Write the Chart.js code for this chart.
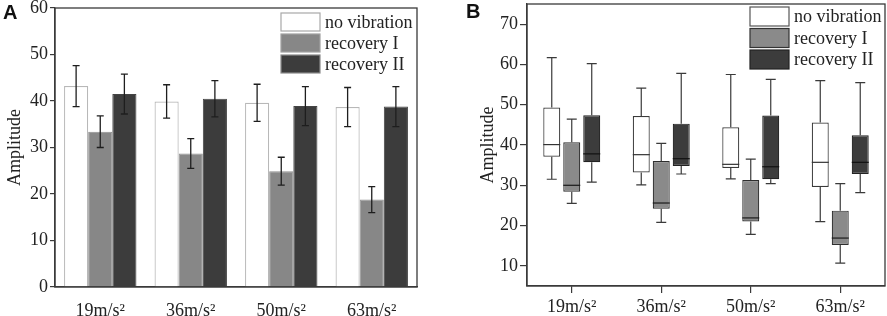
<!DOCTYPE html>
<html>
<head>
<meta charset="utf-8">
<script src="https://cdn.jsdelivr.net/npm/chart.js@4.4.0/dist/chart.umd.min.js"></script>
<style>
  body { margin: 0; background: #fff; width: 887px; height: 316px; position: relative; overflow: hidden; }
  .panel { position: absolute; top: 0; }
  .tag { position: absolute; font: bold 20px "Liberation Sans", Arial, sans-serif; color: #111; }
</style>
</head>
<body>
<div class="panel" style="left:0"><canvas id="chartA" width="445" height="316"></canvas></div>
<div class="panel" style="left:445px"><canvas id="chartB" width="442" height="316"></canvas></div>
<div class="tag" style="left:3px;top:1px">A</div>
<div class="tag" style="left:466px;top:0px">B</div>
<script>
const categories = ["19m/s\u00b2", "36m/s\u00b2", "50m/s\u00b2", "63m/s\u00b2"];
const seriesNames = ["no vibration", "recovery I", "recovery II"];

// panel A: mean +- error
const meanNoVib = [43.2, 39.9, 39.6, 38.7];
const meanRecI = [33.4, 28.7, 24.9, 18.8];
const meanRecII = [41.5, 40.5, 38.9, 38.8];
const errNoVib = [4.4, 3.6, 4.0, 4.2];
const errRecI = [3.4, 3.2, 3.0, 2.8];
const errRecII = [4.3, 3.9, 4.2, 4.3];
const yTicksA = [0, 10, 20, 30, 40, 50, 60];

// panel B: box plots
const minNoVib = [31.5, 30.1, 31.6, 21.0];
const q1NoVib = [37.1, 33.2, 34.3, 29.6];
const medNoVib = [40.1, 37.6, 35.2, 35.7];
const q3NoVib = [49.3, 47.2, 44.4, 45.6];
const maxNoVib = [61.7, 54.1, 57.5, 56.0];

const minRecI = [25.5, 20.8, 17.8, 10.7];
const q1RecI = [28.4, 24.2, 21.0, 15.2];
const medRecI = [30.0, 25.6, 21.9, 16.9];
const q3RecI = [40.7, 36.0, 31.3, 23.7];
const maxRecI = [46.4, 40.4, 36.5, 30.4];

const minRecII = [30.8, 32.8, 30.4, 28.2];
const q1RecII = [35.7, 34.8, 31.5, 32.8];
const medRecII = [37.8, 36.6, 34.6, 35.7];
const q3RecII = [47.4, 45.3, 47.3, 42.4];
const maxRecII = [60.2, 57.8, 56.3, 55.5];
const yTicksB = [10, 20, 30, 40, 50, 60, 70];

const serif = "'Liberation Serif', 'Times New Roman', serif";
const ink = "#222";

// frame round the plot area
const framePlugin = {
  id: "frame",
  afterDraw(chart) {
    const { ctx, chartArea: a } = chart;
    ctx.save();
    ctx.strokeStyle = "#3a3a3a";
    ctx.lineWidth = 1.3;
    ctx.strokeRect(a.left, a.top, a.right - a.left, a.bottom - a.top);
    ctx.restore();
  }
};

// legend drawn inside the plot, with swatches
const swatchLegend = {
  id: "swatchLegend",
  afterDraw(chart, args, opts) {
    const ctx = chart.ctx;
    ctx.save();
    ctx.font = "18px " + serif;
    ctx.textBaseline = "middle";
    chart.data.datasets.forEach((ds, i) => {
      const y = opts.y + i * opts.step;
      ctx.fillStyle = ds.backgroundColor;
      ctx.fillRect(opts.x, y, opts.w, opts.h);
      ctx.strokeStyle = opts.borders[i];
      ctx.lineWidth = 1.2;
      ctx.strokeRect(opts.x, y, opts.w, opts.h);
      ctx.fillStyle = ink;
      ctx.fillText(ds.label, opts.x + opts.w + 5, y + opts.h / 2 + 1);
    });
    ctx.restore();
  }
};

// error bars for panel A
const errorBars = {
  id: "errorBars",
  afterDatasetsDraw(chart) {
    const ctx = chart.ctx;
    const ys = chart.scales.y;
    ctx.save();
    ctx.strokeStyle = "#1e1e1e";
    ctx.lineWidth = 1.3;
    chart.data.datasets.forEach((ds, i) => {
      chart.getDatasetMeta(i).data.forEach((bar, j) => {
        const hi = ys.getPixelForValue(ds.data[j] + ds.errors[j]);
        const lo = ys.getPixelForValue(ds.data[j] - ds.errors[j]);
        ctx.beginPath();
        ctx.moveTo(bar.x, hi); ctx.lineTo(bar.x, lo);
        ctx.moveTo(bar.x - 3.5, hi); ctx.lineTo(bar.x + 3.5, hi);
        ctx.moveTo(bar.x - 3.5, lo); ctx.lineTo(bar.x + 3.5, lo);
        ctx.stroke();
      });
    });
    ctx.restore();
  }
};

// whiskers and medians for panel B
const boxParts = {
  id: "boxParts",
  afterDatasetsDraw(chart) {
    const ctx = chart.ctx;
    const ys = chart.scales.y;
    ctx.save();
    ctx.lineWidth = 1.2;
    chart.data.datasets.forEach((ds, i) => {
      chart.getDatasetMeta(i).data.forEach((bar, j) => {
        const [q1, q3] = ds.data[j];
        const pMax = ys.getPixelForValue(ds.maxs[j]);
        const pMin = ys.getPixelForValue(ds.mins[j]);
        const pQ1 = ys.getPixelForValue(q1);
        const pQ3 = ys.getPixelForValue(q3);
        const pMed = ys.getPixelForValue(ds.meds[j]);
        const half = bar.width / 2;
        ctx.strokeStyle = "#3a3a3a";
        ctx.beginPath();
        ctx.moveTo(bar.x, pQ3); ctx.lineTo(bar.x, pMax);
        ctx.moveTo(bar.x - 5, pMax); ctx.lineTo(bar.x + 5, pMax);
        ctx.moveTo(bar.x, pQ1); ctx.lineTo(bar.x, pMin);
        ctx.moveTo(bar.x - 5, pMin); ctx.lineTo(bar.x + 5, pMin);
        ctx.stroke();
        ctx.strokeStyle = ds.medianColor;
        ctx.beginPath();
        ctx.moveTo(bar.x - half, pMed); ctx.lineTo(bar.x + half, pMed);
        ctx.stroke();
      });
    });
    ctx.restore();
  }
};

function yAxis(width, titlePad, tickLen, ticks, min, max) {
  return {
    min: min, max: max,
    afterFit(s) { s.width = width; s.paddingTop = 0; s.paddingBottom = 0; },
    afterBuildTicks(s) { s.ticks = ticks.map(v => ({ value: v })); },
    grid: { drawOnChartArea: false, drawTicks: true, tickLength: tickLen, color: "#3a3a3a", lineWidth: 1.2 },
    border: { color: "#3a3a3a", width: 1.3 },
    ticks: { color: ink, font: { family: serif, size: 18 }, padding: 2 },
    title: { display: true, text: "Amplitude", color: ink, font: { family: serif, size: 18 }, padding: { top: titlePad, bottom: 0 } }
  };
}

new Chart(document.getElementById("chartA"), {
  type: "bar",
  data: {
    labels: categories,
    datasets: [
      { label: seriesNames[0], data: meanNoVib, errors: errNoVib, backgroundColor: "#ffffff", borderColor: "#b8b8b8", borderWidth: 1.2 },
      { label: seriesNames[1], data: meanRecI, errors: errRecI, backgroundColor: "#878787", borderColor: "#8f8f8f", borderWidth: 1 },
      { label: seriesNames[2], data: meanRecII, errors: errRecII, backgroundColor: "#3c3c3c", borderColor: "#444444", borderWidth: 1 }
    ]
  },
  options: {
    responsive: false,
    animation: false,
    layout: { padding: { left: 2, top: 8, right: 28, bottom: 0 } },
    categoryPercentage: 0.8,
    barPercentage: 1.0,
    scales: {
      x: {
        afterFit(s) { s.height = 29; s.paddingLeft = 0; s.paddingRight = 0; },
        grid: { display: false },
        border: { color: "#3a3a3a", width: 1.3 },
        ticks: { color: ink, font: { family: serif, size: 18 }, padding: 5 }
      },
      y: yAxis(53, 2, 5, yTicksA, 0, 60)
    },
    plugins: {
      legend: { display: false },
      tooltip: { enabled: false },
      swatchLegend: { x: 281, y: 13, w: 39, h: 18, step: 21, borders: ["#a8a8a8", "#a0a0a0", "#8a8a8a"] }
    }
  },
  plugins: [framePlugin, errorBars, swatchLegend]
});

new Chart(document.getElementById("chartB"), {
  type: "bar",
  data: {
    labels: categories,
    datasets: [
      { label: seriesNames[0], data: q1NoVib.map((v, i) => [v, q3NoVib[i]]), mins: minNoVib, meds: medNoVib, maxs: maxNoVib,
        medianColor: "#333", backgroundColor: "#ffffff", borderColor: "#3a3a3a", borderWidth: 1.2, borderSkipped: false },
      { label: seriesNames[1], data: q1RecI.map((v, i) => [v, q3RecI[i]]), mins: minRecI, meds: medRecI, maxs: maxRecI,
        medianColor: "#1a1a1a", backgroundColor: "#8a8a8a", borderColor: "#2e2e2e", borderWidth: 1.2, borderSkipped: false },
      { label: seriesNames[2], data: q1RecII.map((v, i) => [v, q3RecII[i]]), mins: minRecII, meds: medRecII, maxs: maxRecII,
        medianColor: "#111", backgroundColor: "#3c3c3c", borderColor: "#222222", borderWidth: 1.2, borderSkipped: false }
    ]
  },
  options: {
    responsive: false,
    animation: false,
    layout: { padding: { left: 0, top: 4, right: 2, bottom: 0 } },
    categoryPercentage: 0.67,
    barPercentage: 0.85,
    scales: {
      x: {
        afterFit(s) { s.height = 30; s.paddingLeft = 0; s.paddingRight = 0; },
        grid: { offset: false, drawOnChartArea: false, drawTicks: true, tickLength: 7, color: "#3a3a3a", lineWidth: 1.2 },
        border: { color: "#3a3a3a", width: 1.3 },
        ticks: { color: ink, font: { family: serif, size: 18 }, padding: 3 }
      },
      y: yAxis(82, 32, 7, yTicksB, 5, 75)
    },
    plugins: {
      legend: { display: false },
      tooltip: { enabled: false },
      swatchLegend: { x: 305, y: 7, w: 39, h: 19, step: 21.5, borders: ["#555555", "#333333", "#222222"] }
    }
  },
  plugins: [framePlugin, boxParts, swatchLegend]
});
</script>
</body>
</html>
